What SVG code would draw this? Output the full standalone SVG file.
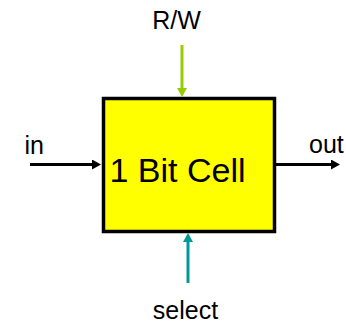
<svg xmlns="http://www.w3.org/2000/svg" width="346" height="324" viewBox="0 0 346 324">
<style>
.lbl{font-family:"Liberation Sans",Arial,sans-serif;font-size:25px;fill:#000}
.big{font-family:"Liberation Sans",Arial,sans-serif;font-size:34px;fill:#000}
.w{stroke-width:3;fill:none}
</style>
<defs>
<marker id="ak" markerUnits="userSpaceOnUse" markerWidth="10" markerHeight="10" refX="1" refY="5" orient="auto"><path d="M0,0 L9,5 L0,10 z" fill="#000"/></marker>
<marker id="ag" markerUnits="userSpaceOnUse" markerWidth="10" markerHeight="10" refX="1" refY="5" orient="auto"><path d="M0,0 L9,5 L0,10 z" fill="#99cc00"/></marker>
<marker id="at" markerUnits="userSpaceOnUse" markerWidth="10" markerHeight="10" refX="1" refY="5" orient="auto"><path d="M0,0 L9,5 L0,10 z" fill="#009999"/></marker>
</defs>
<g id="cell">
<rect x="103.5" y="98.5" width="171" height="133" fill="#ffff00" stroke="#000" stroke-width="3.5"/>
<text class="big" x="109.5" y="181.5">1 Bit Cell</text>
</g>
<g id="connectors">
<line class="w" x1="182" y1="45" x2="182" y2="89" stroke="#99cc00" marker-end="url(#ag)"/>
<line class="w" x1="188" y1="283" x2="188" y2="241" stroke="#009999" marker-end="url(#at)"/>
<line class="w" x1="30" y1="164.5" x2="93" y2="164.5" stroke="#000" marker-end="url(#ak)"/>
<line class="w" x1="276" y1="164.5" x2="332" y2="164.5" stroke="#000" marker-end="url(#ak)"/>
</g>
<g id="labels">
<text class="lbl" x="176.5" y="28.5" text-anchor="middle">R/W</text>
<text class="lbl" x="24.5" y="154">in</text>
<text class="lbl" x="309" y="153">out</text>
<text class="lbl" x="185.5" y="319" text-anchor="middle">select</text>
</g>
</svg>
